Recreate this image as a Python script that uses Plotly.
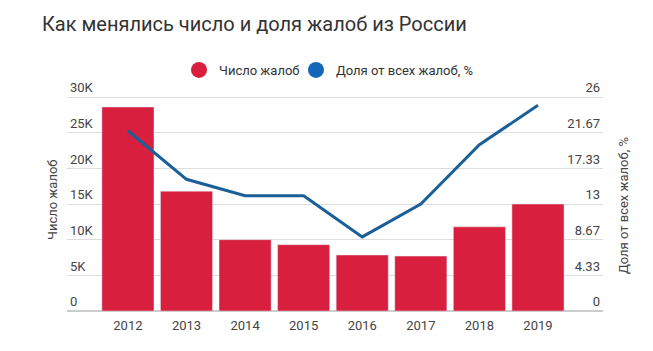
import plotly.graph_objects as go

years = ["2012", "2013", "2014", "2015", "2016", "2017", "2018", "2019"]
complaints = [28600, 16800, 10000, 9300, 7850, 7700, 11800, 15000]
share_pct = [21.9, 16.0, 14.0, 14.0, 9.0, 13.0, 20.2, 25.0]
left_ticks = [0, 5000, 10000, 15000, 20000, 25000, 30000]
left_labels = ["0", "5K", "10K", "15K", "20K", "25K", "30K"]
right_ticks = [0, 4.33, 8.67, 13, 17.33, 21.67, 26]
right_labels = ["0", "4.33", "8.67", "13", "17.33", "21.67", "26"]

RED = "#d81f3d"
BLUE = "#1b5f98"
BLUE_LEG = "#1565b8"
TXT = "#444444"
FONT = "Roboto"

W, H = 653, 351
L, R, T, B = 67, 50, 80, 40
PW = W - L - R
PH = H - T - B
GRID_TOP = 97  # pixel row of the 30K / 26 gridline
scale = PH / (H - B - GRID_TOP)

def px_x(p):
    return (p - L) / PW

def px_y(p):
    return (H - B - p) / PH

fig = go.Figure()
fig.add_trace(go.Bar(x=years, y=complaints, marker_color=RED, showlegend=False,
                     yaxis="y"))
fig.add_trace(go.Scatter(x=years, y=share_pct, mode="lines", yaxis="y2",
                         line=dict(color=BLUE, width=3), showlegend=False))
# legend entries (circles)
fig.add_trace(go.Scatter(x=[None], y=[None], mode="markers", name="Число жалоб",
                         marker=dict(color=RED, size=16, symbol="circle"), legend="legend"))
fig.add_trace(go.Scatter(x=[None], y=[None], mode="markers", name="Доля от всех жалоб, %",
                         marker=dict(color=BLUE_LEG, size=16, symbol="circle"), legend="legend2"))

leg_common = dict(orientation="h", xanchor="left", yanchor="middle",
                  font=dict(size=13, color="#333333", family=FONT), itemwidth=30,
                  bgcolor="rgba(0,0,0,0)")

fig.update_layout(
    width=W, height=H,
    margin=dict(l=L, r=R, t=T, b=B),
    paper_bgcolor="white", plot_bgcolor="white",
    font=dict(family=FONT, color=TXT, size=13),
    bargap=0.11,
    title=dict(text="Как менялись число и доля жалоб из России", x=42/W, xref="container",
               xanchor="left", y=1-24/H, yanchor="middle",
               font=dict(family=FONT, size=20, color="#333333")),
    legend=dict(x=px_x(179), y=px_y(70), **leg_common),
    legend2=dict(x=px_x(296), y=px_y(70), **leg_common),
    xaxis=dict(type="category", range=[-1.04, 8.11], showgrid=False, ticks="",
               showline=False, tickfont=dict(size=13, color=TXT), ticklabelstandoff=5),
    yaxis=dict(range=[0, 30000 * scale], tickvals=left_ticks, ticktext=left_labels,
               ticklabelposition="inside top", showgrid=True, gridcolor="#dddddd",
               gridwidth=1, zeroline=True, zerolinecolor="#cccccc", ticks="",
               tickfont=dict(size=13, color=TXT)),
    yaxis2=dict(range=[0, 26 * scale], tickvals=right_ticks, ticktext=right_labels,
                overlaying="y", side="right", ticklabelposition="inside top",
                showgrid=False, zeroline=False, ticks="",
                tickfont=dict(size=13, color=TXT)),
    annotations=[
        dict(text="Число жалоб", x=px_x(52), xref="paper", y=px_y(200), yref="paper",
             xanchor="center", yanchor="middle",
             showarrow=False, textangle=-90, font=dict(size=13, color=TXT)),
        dict(text="Доля от всех жалоб, %", x=px_x(623), xref="paper", y=px_y(206), yref="paper",
             xanchor="center", yanchor="middle",
             showarrow=False, textangle=-90, font=dict(size=13, color=TXT)),
    ],
)

fig.write_html("out.html")
